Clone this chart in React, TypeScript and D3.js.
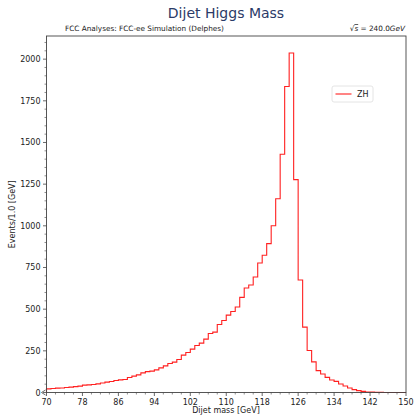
import React from "react";
import * as d3 from "d3";

// Bin lower edges (GeV), 1 GeV wide, 70..149
const binEdges: number[] = d3.range(70, 151, 1);
// Events per bin for the ZH sample
const zhCounts: number[] = [
  22, 24, 26, 27, 30, 32, 35, 38, 44, 46,
  48, 52, 57, 62, 66, 72, 76, 78, 90, 98,
  106, 118, 125, 128, 136, 148, 160, 174, 182, 198,
  224, 240, 260, 282, 296, 320, 354, 362, 408, 432,
  464, 486, 513, 571, 627, 645, 693, 777, 823, 893,
  1000, 1162, 1429, 1836, 2037, 1277, 675, 392, 252, 184,
  131, 111, 91, 75, 67, 51, 39, 27, 17, 11,
  7, 3, 2, 1, 1, 0, 0, 0, 0, 0,
];
const xTicks: number[] = [70, 78, 86, 94, 102, 110, 118, 126, 134, 142, 150];
const yTicks: number[] = [0, 250, 500, 750, 1000, 1250, 1500, 1750, 2000];
const seriesName = "ZH";

const W = 414;
const H = 418;
const M = { left: 46.5, right: 406, top: 36, bottom: 392.5 };
const FONT = "DejaVu Sans, sans-serif";

export default function App() {
  const x = d3.scaleLinear().domain([70, 150]).range([M.left, M.right]);
  const yMax = d3.max(zhCounts)! * 1.05;
  const y = d3.scaleLinear().domain([0, yMax]).range([M.bottom, M.top]);

  // step outline: baseline -> bins -> baseline
  const pts: [number, number][] = [[70, 0]];
  zhCounts.forEach((c, i) => {
    pts.push([binEdges[i], c]);
    pts.push([binEdges[i + 1], c]);
  });
  pts.push([150, 0]);
  const line = d3
    .line<[number, number]>()
    .x((d) => x(d[0]))
    .y((d) => y(d[1]));

  const xMinor = d3.range(70, 151, 2).filter((v) => !xTicks.includes(v));
  const yMinor = d3.range(0, yMax, 50).filter((v) => !yTicks.includes(v));
  const axisColor = "#444";

  return (
    <svg
      width={W}
      height={H}
      style={{ position: "absolute", left: 0, top: 0, background: "#fff" }}
      fontFamily={FONT}
    >
      <text x={226} y={18} textAnchor="middle" fontSize={14} fill="#2b3a67">
        Dijet Higgs Mass
      </text>
      <text x={65} y={31} fontSize={7.3} fill="#222">
        FCC Analyses: FCC-ee Simulation (Delphes)
      </text>
      <text x={405} y={31} textAnchor="end" fontSize={7.3} fill="#222">
        <tspan>√</tspan>
        <tspan fontStyle="italic" textDecoration="overline">s</tspan>
        <tspan> = 240.0</tspan>
        <tspan fontStyle="italic">GeV</tspan>
      </text>

      <path d={line(pts)!} fill="none" stroke="#ff2020" strokeWidth={1.1} />

      {/* frame */}
      <rect
        x={M.left}
        y={M.top}
        width={M.right - M.left}
        height={M.bottom - M.top}
        fill="none"
        stroke={axisColor}
        strokeWidth={0.9}
      />

      {/* x ticks */}
      {xTicks.map((t) => (
        <g key={"xt" + t}>
          <line x1={x(t)} x2={x(t)} y1={M.bottom} y2={M.bottom + 3.5} stroke={axisColor} strokeWidth={0.8} />
          <text x={x(t)} y={M.bottom + 12.5} textAnchor="middle" fontSize={8} fill="#222">
            {t}
          </text>
        </g>
      ))}
      {xMinor.map((t) => (
        <line key={"xm" + t} x1={x(t)} x2={x(t)} y1={M.bottom} y2={M.bottom + 2} stroke={axisColor} strokeWidth={0.6} />
      ))}

      {/* y ticks */}
      {yTicks.map((t) => (
        <g key={"yt" + t}>
          <line x1={M.left - 3.5} x2={M.left} y1={y(t)} y2={y(t)} stroke={axisColor} strokeWidth={0.8} />
          <text x={M.left - 6} y={y(t) + 3} textAnchor="end" fontSize={8} fill="#222">
            {t}
          </text>
        </g>
      ))}
      {yMinor.map((t) => (
        <line key={"ym" + t} x1={M.left - 2} x2={M.left} y1={y(t)} y2={y(t)} stroke={axisColor} strokeWidth={0.6} />
      ))}
      <polyline
        points={`${M.left - 1},${M.bottom - 2.5} ${M.left - 5},${M.bottom} ${M.left - 1},${M.bottom + 2.5}`}
        fill="none"
        stroke={axisColor}
        strokeWidth={0.8}
      />

      <text x={226} y={413} textAnchor="middle" fontSize={8} fill="#222">
        Dijet mass [GeV]
      </text>
      <text
        transform={`translate(15,${(M.top + M.bottom) / 2}) rotate(-90)`}
        textAnchor="middle"
        fontSize={8}
        fill="#222"
      >
        Events/1.0 [GeV]
      </text>

      {/* legend */}
      <rect x={332} y={86} width={41} height={16} rx={2} fill="#fff" stroke="#ddd" strokeWidth={0.8} />
      <line x1={335.5} x2={351.5} y1={94} y2={94} stroke="#ff2020" strokeWidth={1.1} />
      <text x={357} y={97} fontSize={8} fill="#222">
        {seriesName}
      </text>
    </svg>
  );
}
